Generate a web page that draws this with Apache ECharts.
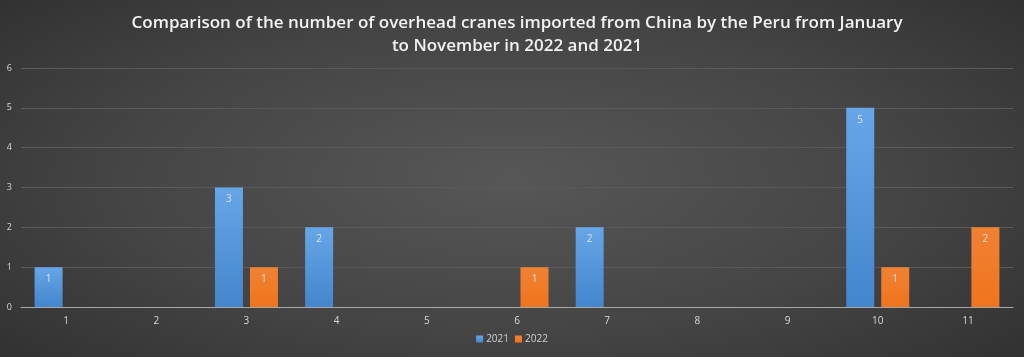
<!DOCTYPE html>
<html>
<head>
<meta charset="utf-8">
<script src="https://cdn.jsdelivr.net/npm/echarts@6/dist/echarts.min.js"></script>
<style>
html,body{margin:0;padding:0;}
#c{width:1024px;height:357px;background:radial-gradient(ellipse 75% 85% at 50% 50%, #575757 0%, #454545 50%, #2c2c2c 100%);}
</style>
</head>
<body>
<div id="c"></div>
<script>
const categories = ['1','2','3','4','5','6','7','8','9','10','11'];
const values2021 = [1, null, 3, 2, null, null, 2, null, null, 5, null];
const values2022 = [null, null, 1, null, null, 1, null, null, null, 1, 2];
const yTicks = [0, 6, 1];

const chart = echarts.init(document.getElementById('c'));
const labelStyle = {show: true, position: 'insideTop', color: '#e0e0e0', fontSize: 10, distance: 7, fontFamily: 'Open Sans'};
chart.setOption({
  backgroundColor: 'transparent',
  animation: false,
  title: {
    text: 'Comparison of the number of overhead cranes imported from China by the Peru from January\nto November in 2022 and 2021',
    left: 512,
    top: 7,
    textAlign: 'center',
    textStyle: {color: '#f2f2f2', fontSize: 17, fontWeight: 600, fontFamily: 'Open Sans', lineHeight: 23}
  },
  legend: {
    bottom: 8,
    left: 'center',
    itemWidth: 7,
    itemHeight: 7,
    itemGap: 6,
    icon: 'rect',
    textStyle: {color: '#d0d0d0', fontSize: 10, fontFamily: 'Open Sans', padding: [0,0,0,-2]},
    data: ['2021', '2022']
  },
  grid: {left: 21, right: 11, top: 68, bottom: 50, containLabel: false},
  xAxis: {
    type: 'category',
    data: categories,
    axisLine: {lineStyle: {color: '#a8a8a8', width: 1}},
    axisTick: {show: false},
    axisLabel: {color: '#d8d8d8', fontSize: 10, margin: 9, fontFamily: 'Open Sans'}
  },
  yAxis: {
    type: 'value',
    min: yTicks[0], max: yTicks[1], interval: yTicks[2],
    axisLine: {show: false},
    axisTick: {show: false},
    axisLabel: {color: '#d8d8d8', fontSize: 9, margin: 9, fontFamily: 'Open Sans'},
    splitLine: {lineStyle: {color: '#5a5a5a', width: 1}}
  },
  series: [
    {
      name: '2021', type: 'bar', data: values2021, barWidth: 28, barGap: '25%',
      itemStyle: {color: new echarts.graphic.LinearGradient(0,0,0,1,[{offset:0,color:'#66a6e8'},{offset:1,color:'#4486cc'}])},
      label: labelStyle
    },
    {
      name: '2022', type: 'bar', data: values2022, barWidth: 28, barGap: '25%',
      itemStyle: {color: new echarts.graphic.LinearGradient(0,0,0,1,[{offset:0,color:'#f08234'},{offset:1,color:'#f0741c'}])},
      label: labelStyle
    }
  ]
});
</script>
</body>
</html>
